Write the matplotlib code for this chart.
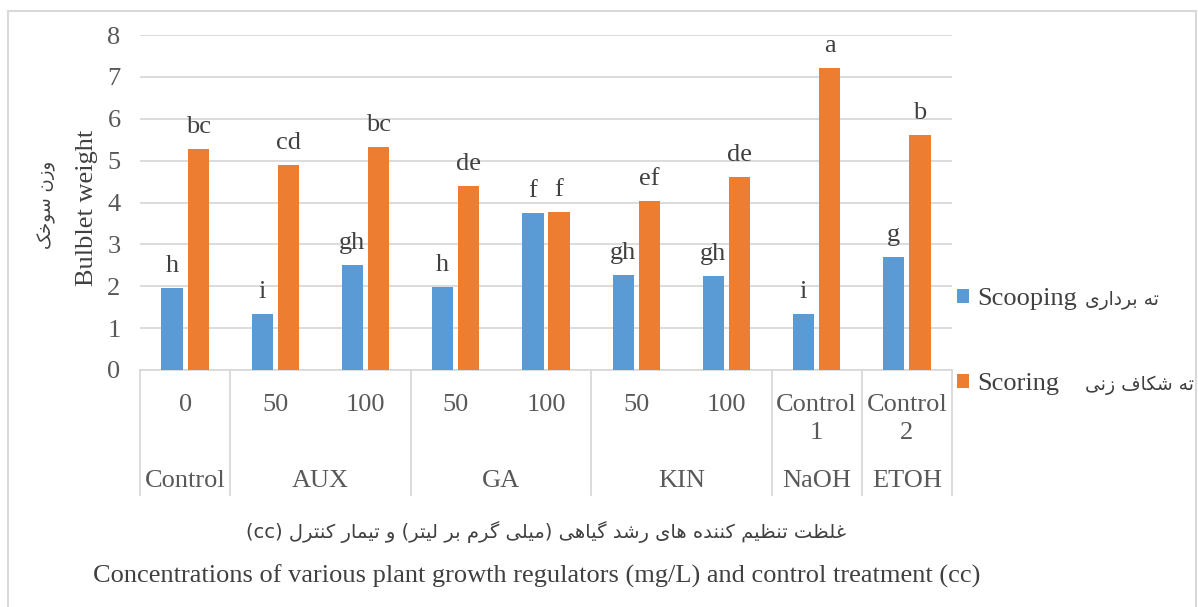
import numpy as np
import matplotlib
matplotlib.use("Agg")
import matplotlib.pyplot as plt
from matplotlib.lines import Line2D
from matplotlib.patches import Rectangle

# ---------------- data ----------------
inner_labels = ["0", "50", "100", "50", "100", "50", "100", "Control\n1", "Control\n2"]
groups = ["Control", "AUX", "GA", "KIN", "NaOH", "ETOH"]
group_sizes = [1, 2, 2, 2, 1, 1]
scooping = [1.96, 1.34, 2.51, 1.98, 3.75, 2.27, 2.24, 1.34, 2.70]
scoring = [5.27, 4.89, 5.32, 4.39, 3.77, 4.03, 4.61, 7.21, 5.61]
scooping_letters = ["h", "i", "gh", "h", "f", "gh", "gh", "i", "g"]
scoring_letters = ["bc", "cd", "bc", "de", "f", "ef", "de", "a", "b"]
series_names = ["Scooping", "Scoring"]
series_names_fa = ["ته برداری", "ته شکاف زنی"]
ylabel_en = "Bulblet weight"
ylabel_fa = "وزن سوخک"
xlabel_fa = "غلظت تنظیم کننده های رشد گیاهی (میلی گرم بر لیتر) و تیمار کنترل"
xlabel_fa_tail = "(cc)"
xlabel_en = "Concentrations of various plant growth regulators (mg/L) and control treatment (cc)"

# ------------- minimal Arabic/Persian shaping -------------
FORMS = {
    '\u0627': ('\uFE8D', '\uFE8E', None, None),
    '\u0628': ('\uFE8F', '\uFE90', '\uFE91', '\uFE92'),
    '\u062A': ('\uFE95', '\uFE96', '\uFE97', '\uFE98'),
    '\u062E': ('\uFEA5', '\uFEA6', '\uFEA7', '\uFEA8'),
    '\u062F': ('\uFEA9', '\uFEAA', None, None),
    '\u0631': ('\uFEAD', '\uFEAE', None, None),
    '\u0632': ('\uFEAF', '\uFEB0', None, None),
    '\u0633': ('\uFEB1', '\uFEB2', '\uFEB3', '\uFEB4'),
    '\u0634': ('\uFEB5', '\uFEB6', '\uFEB7', '\uFEB8'),
    '\u0638': ('\uFEC5', '\uFEC6', '\uFEC7', '\uFEC8'),
    '\u063A': ('\uFECD', '\uFECE', '\uFECF', '\uFED0'),
    '\u0641': ('\uFED1', '\uFED2', '\uFED3', '\uFED4'),
    '\u0644': ('\uFEDD', '\uFEDE', '\uFEDF', '\uFEE0'),
    '\u0645': ('\uFEE1', '\uFEE2', '\uFEE3', '\uFEE4'),
    '\u0646': ('\uFEE5', '\uFEE6', '\uFEE7', '\uFEE8'),
    '\u0647': ('\uFEE9', '\uFEEA', '\uFEEB', '\uFEEC'),
    '\u0648': ('\uFEED', '\uFEEE', None, None),
    '\u06A9': ('\uFB8E', '\uFB8F', '\uFB90', '\uFB91'),
    '\u06AF': ('\uFB92', '\uFB93', '\uFB94', '\uFB95'),
    '\u06CC': ('\uFBFC', '\uFBFD', '\uFBFE', '\uFBFF'),
}


def shape(s):
    out = []
    n = len(s)
    for i, c in enumerate(s):
        if c not in FORMS:
            out.append(c)
            continue
        iso, fin, ini, med = FORMS[c]
        prev = s[i - 1] if i > 0 else None
        nxt = s[i + 1] if i < n - 1 else None
        jp = prev in FORMS and FORMS[prev][2] is not None
        jn = ini is not None and nxt in FORMS
        if jp and jn:
            out.append(med)
        elif jp:
            out.append(fin)
        elif jn:
            out.append(ini)
        else:
            out.append(iso)
    return "".join(out)


def rtl(s):
    mirror = {"(": ")", ")": "("}
    return "".join(mirror.get(c, c) for c in reversed(shape(s)))


# ---------------- styling ----------------
SERIF = ["Liberation Serif", "DejaVu Sans"]
plt.rcParams["font.family"] = SERIF
BLUE = "#5B9BD5"
ORANGE = "#ED7D31"
GRID = "#D9D9D9"
TXT = "#404040"
TICK = "#595959"
FS = 19
FA = 13.5

W, H = 1198, 607
fig = plt.figure(figsize=(W / 100, H / 100), dpi=100)
ax = fig.add_axes([140 / W, 1 - 370 / H, (952 - 140) / W, (370 - 35) / H])

# chart-area border
fig.patches.append(Rectangle((8 / W, -0.01), (1196 - 8) / W, 1 - 11 / H + 0.01,
                             transform=fig.transFigure, fill=False,
                             edgecolor=GRID, lw=1.5, zorder=0))

x = np.arange(len(scooping))
bw = 0.235
off = 0.145
b1 = ax.bar(x - off, scooping, bw, color=BLUE, zorder=3, label=series_names[0])
b2 = ax.bar(x + off, scoring, bw, color=ORANGE, zorder=3, label=series_names[1])

for bars, letters in ((b1, scooping_letters), (b2, scoring_letters)):
    for rect, lab in zip(bars, letters):
        ax.annotate(lab, (rect.get_x() + rect.get_width() / 2, rect.get_height()),
                    xytext=(0, 8), textcoords="offset points", ha="center",
                    va="bottom", fontsize=FS, color=TXT)

ax.set_xlim(-0.5, len(x) - 0.5)
ax.set_ylim(0, 8)
ax.set_yticks(np.arange(0, 9, 1))
ax.grid(axis="y", color=GRID, lw=1.3, zorder=0)
ax.set_axisbelow(True)
for s in ["top", "right", "left"]:
    ax.spines[s].set_visible(False)
ax.spines["bottom"].set_color(GRID)
ax.spines["bottom"].set_linewidth(1.3)
ax.tick_params(axis="y", length=0, pad=14, labelsize=FS, labelcolor=TICK)
ax.set_xticks(x)
ax.set_xticklabels(inner_labels, fontsize=FS, color=TICK, linespacing=1.4)
ax.tick_params(axis="x", length=0, pad=17)

# group separators and labels
axh = 370 - 35
sep_bottom = -(495 - 370) / axh
bounds = np.concatenate([[0], np.cumsum(group_sizes)]) - 0.5
for b in bounds:
    ax.add_line(Line2D([b, b], [0, sep_bottom], transform=ax.get_xaxis_transform(),
                       color=GRID, lw=1.3, clip_on=False))
for g, lo, hi in zip(groups, bounds[:-1], bounds[1:]):
    ax.text((lo + hi) / 2, -(481 - 370) / axh, g, transform=ax.get_xaxis_transform(),
            ha="center", va="center", fontsize=FS, color=TICK)

# y labels
fig.text(87 / W, 1 - 208 / H, ylabel_en, rotation=90, ha="center", va="center",
         fontsize=FS, color=TXT)
fig.text(47 / W, 1 - 205 / H, rtl(ylabel_fa), rotation=90, ha="center", va="center",
         fontsize=FA - 0.5, color=TXT, family=["DejaVu Sans"])

# x labels
fig.text(546 / W, 1 - 532 / H, xlabel_fa_tail + " " + rtl(xlabel_fa), ha="center",
         va="center", fontsize=FA + 0.5, color=TXT, family=["DejaVu Sans", "Liberation Serif"])
fig.text(537 / W, 1 - 576 / H, xlabel_en, ha="center", va="center", fontsize=FS, color=TXT)

# legend
leg = fig.legend(handles=[b1, b2], labels=series_names, loc="upper left",
                 bbox_to_anchor=(957 / W, 1 - 288 / H), frameon=False,
                 fontsize=FS, handlelength=0.45, handleheight=0.45,
                 handletextpad=0.3, labelspacing=2.4, borderpad=0, borderaxespad=0)
for t in leg.get_texts():
    t.set_color(TXT)

fig.canvas.draw()
gaps = [8, 26]
for t, fa, gap in zip(leg.get_texts(), series_names_fa, gaps):
    bb = t.get_window_extent()
    fig.text((bb.x1 + gap) / W, (bb.y0 + bb.y1) / 2 / H - 0.002, rtl(fa), ha="left",
             va="center", fontsize=FA, color=TXT, family=["DejaVu Sans"])

fig.savefig("out.png", dpi=100)
